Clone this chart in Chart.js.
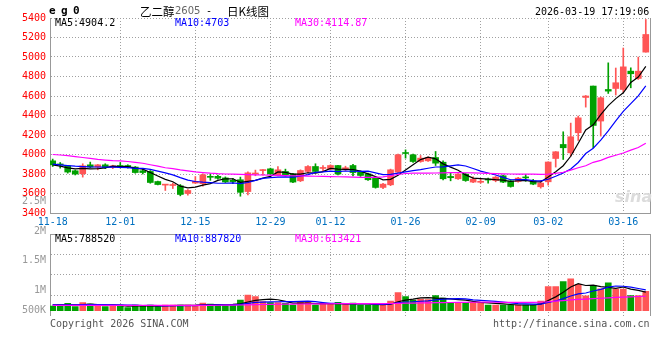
<!DOCTYPE html>
<html><head><meta charset="utf-8">
<script src="https://cdn.jsdelivr.net/npm/chart.js@4.4.1/dist/chart.umd.min.js"></script>
<style>
html,body{margin:0;padding:0;background:#fff;}
#wrap{position:relative;width:660px;height:360px;overflow:hidden;background:#fff;}
canvas{position:absolute;left:0;}
.t{position:absolute;white-space:pre;font:10px 'DejaVu Sans Mono',monospace;line-height:12px;color:#000;}
</style></head><body>
<div id="wrap">
<canvas id="k" width="660" height="232" style="top:0"></canvas>
<canvas id="v" width="660" height="150" style="top:190px"></canvas>
<div class="t" style="left:49px;top:4px;font:bold 11px 'DejaVu Sans Mono';letter-spacing:5.4px;line-height:14px">eg0</div>
<div class="t" style="left:140px;top:3px;font:11.5px 'Noto Sans CJK SC';line-height:16px">乙二醇</div>
<div class="t" style="left:175px;top:5px;font:10px 'DejaVu Sans';color:#666;line-height:12px">2605</div>
<div class="t" style="left:206px;top:5px">-</div>
<div class="t" style="left:227px;top:3px;font:11.5px 'Noto Sans CJK SC';line-height:16px">日K线图</div>
<div class="t" style="left:535px;top:6px">2026-03-19 17:19:06</div>
<div class="t" style="left:55px;top:17px">MA5:4904.2</div>
<div class="t" style="left:175px;top:17px;color:#0000ff">MA10:4703</div>
<div class="t" style="left:295px;top:17px;color:#ff00ff">MA30:4114.87</div>
<div class="t" style="left:55px;top:233px">MA5:788520</div>
<div class="t" style="left:175px;top:233px;color:#0000ff">MA10:887820</div>
<div class="t" style="left:295px;top:233px;color:#ff00ff">MA30:613421</div>
<div class="t" style="left:50px;top:318px;color:#555">Copyright 2026 SINA.COM</div>
<div class="t" style="left:493px;top:318px;color:#555">http://finance.sina.com.cn</div>
<div class="t" style="left:615px;top:188px;font:italic bold 16px 'DejaVu Sans';color:#dcdcdc;line-height:18px">sina</div>
</div>
<script>
// ---------- data ----------
const tickIdx = [0, 9, 19, 29, 37, 47, 57, 66, 76];
const tickLabels = ['11-18','12-01','12-15','12-29','01-12','01-26','02-09','03-02','03-16'];
const volTickValues = [2500000, 2000000, 1500000, 1000000, 500000];
const volTickLabels = ['2.5M','2M','1.5M','1M','500K'];

const open = [3935,3900,3884,3833,3802,3894,3871,3894,3867,3887,
3887,3871,3833,3826,3723,3686,3682,3679,3600,3707,
3700,3772,3776,3760,3735,3741,3620,3800,3835,3853,
3786,3826,3800,3730,3826,3877,3857,3850,3887,3843,
3887,3819,3802,3758,3662,3689,3819,4017,3997,3928,
3935,3969,3921,3775,3751,3799,3717,3715,3744,3733,
3782,3730,3723,3766,3730,3669,3720,3959,4103,4017,
4223,4585,4702,4343,4667,4677,4667,4855,4780,5050];
const close = [3894,3893,3820,3799,3884,3871,3894,3867,3884,3870,
3867,3815,3815,3713,3692,3689,3690,3590,3631,3725,
3792,3766,3756,3718,3722,3612,3812,3806,3843,3800,
3843,3792,3717,3836,3877,3826,3862,3887,3800,3864,
3815,3785,3741,3662,3696,3843,3997,4010,3928,3963,
3969,3911,3751,3762,3799,3733,3747,3722,3738,3768,
3717,3672,3758,3760,3696,3707,3923,4028,4069,4182,
4376,4600,4298,4582,4650,4736,4899,4828,4855,5231];
const high = [3953,3918,3887,3840,3905,3922,3898,3905,3890,3918,
3895,3877,3850,3835,3727,3692,3707,3692,3641,3774,
3802,3802,3790,3770,3756,3768,3822,3840,3846,3860,
3877,3850,3806,3843,3887,3905,3887,3894,3890,3880,
3900,3830,3810,3765,3705,3850,4004,4048,4004,3990,
3975,4031,3935,3810,3805,3805,3770,3745,3758,3775,
3790,3740,3765,3795,3745,3730,3925,4030,4233,4322,
4394,4605,4702,4590,4940,4887,5092,4889,4999,5385];
const low = [3877,3860,3809,3790,3768,3865,3843,3855,3855,3862,
3860,3808,3800,3705,3688,3631,3651,3576,3583,3703,
3675,3735,3748,3712,3700,3572,3585,3782,3789,3790,
3780,3780,3710,3722,3812,3812,3830,3843,3790,3836,
3780,3775,3735,3655,3650,3680,3812,3963,3920,3920,
3928,3887,3740,3730,3745,3725,3710,3705,3705,3720,
3710,3665,3716,3725,3690,3655,3686,3871,3949,3983,
4144,4486,4069,4189,4626,4610,4640,4684,4770,5050];
const ma5 = [3894,3880,3862,3852,3858,3853,3854,3863,3880,3877,
3876,3861,3850,3816,3780,3745,3720,3675,3658,3665,
3686,3701,3734,3751,3751,3715,3724,3734,3759,3775,
3821,3817,3799,3798,3813,3810,3824,3858,3850,3848,
3846,3830,3801,3773,3740,3745,3788,3842,3895,3948,
3973,3956,3904,3871,3838,3791,3758,3753,3748,3742,
3738,3723,3731,3735,3721,3719,3769,3823,3885,3982,
4116,4251,4305,4408,4501,4573,4633,4739,4794,4904.2];
const ma10 = [3901,3893,3886,3880,3876,3873,3872,3871,3870,3868,
3865,3858,3857,3848,3829,3811,3791,3763,3737,3723,
3716,3711,3705,3705,3708,3701,3713,3734,3755,3763,
3768,3771,3767,3779,3794,3816,3821,3829,3824,3831,
3828,3827,3830,3812,3794,3796,3809,3822,3834,3844,
3859,3872,3873,3883,3893,3882,3857,3829,3810,3790,
3765,3741,3742,3742,3732,3729,3746,3777,3810,3852,
3918,4010,4064,4147,4242,4345,4442,4522,4601,4703];
const ma30 = [4000,3995,3988,3978,3969,3960,3950,3943,3937,3934,
3928,3920,3910,3895,3880,3864,3855,3843,3833,3822,
3815,3808,3803,3800,3799,3797,3794,3792,3790,3788,
3786,3784,3782,3780,3779,3777,3775,3774,3772,3770,
3767,3765,3765,3766,3770,3782,3795,3805,3808,3809,
3809,3810,3812,3815,3815,3813,3811,3809,3806,3804,
3802,3800,3799,3799,3798,3797,3799,3806,3818,3840,
3864,3885,3920,3940,3970,3992,4015,4045,4072,4114.87];
const volume = [200000,270000,310000,170000,340000,285000,200000,170000,240000,240000,
130000,240000,185000,240000,170000,240000,240000,240000,240000,200000,
325000,285000,240000,240000,240000,455000,665000,595000,385000,340000,
340000,310000,240000,355000,355000,240000,285000,270000,355000,270000,
325000,240000,240000,240000,240000,410000,765000,595000,455000,495000,
470000,640000,540000,355000,355000,355000,355000,355000,240000,240000,
240000,240000,240000,240000,240000,410000,1020000,1020000,1235000,1350000,
1120000,630000,1080000,930000,1180000,920000,920000,640000,640000,820000];
const volMa5 = [250000,250000,252000,252000,258000,275000,261000,233000,247000,227000,
196000,204000,207000,207000,193000,215000,215000,226000,226000,232000,
249000,258000,258000,258000,266000,292000,368000,439000,468000,488000,
465000,394000,323000,317000,320000,300000,295000,301000,301000,284000,
301000,292000,286000,263000,257000,274000,379000,450000,493000,544000,
556000,531000,520000,500000,472000,449000,392000,355000,332000,309000,
286000,263000,240000,240000,240000,274000,430000,586000,785000,1007000,
1149000,1071000,1083000,1022000,988000,948000,1006000,918000,860000,788520];
const volMa10 = [250000,250000,252000,252000,255000,258000,258000,255000,252000,243000,
236000,233000,220000,227000,210000,206000,210000,217000,217000,213000,
232000,237000,242000,242000,249000,271000,313000,349000,363000,377000,
379000,381000,381000,393000,404000,383000,345000,312000,309000,302000,
301000,294000,294000,282000,271000,288000,336000,368000,378000,401000,
415000,455000,485000,497000,508000,503000,462000,438000,416000,391000,
368000,328000,298000,286000,275000,280000,347000,413000,513000,624000,
712000,751000,835000,904000,998000,1049000,1039000,1001000,941000,887820];
const volMa30 = [228000,228000,227000,227000,226000,226000,225000,225000,225000,225000,
224000,224000,223000,223000,222000,222000,222000,222000,223000,224000,
226000,228000,230000,232000,235000,240000,248000,256000,262000,268000,
273000,277000,280000,283000,287000,290000,292000,294000,296000,298000,
300000,300000,301000,301000,302000,305000,312000,318000,323000,328000,
333000,340000,345000,348000,352000,356000,358000,360000,360000,358000,
356000,354000,352000,352000,352000,357000,380000,405000,430000,455000,
478000,492000,510000,528000,546000,562000,578000,590000,602000,613421];

// ---------- styling ----------
const UP = '#ff5555', DOWN = '#00a000';
const GRID = '#a0a0a0', BORDER = '#999999';
const MONO = "'DejaVu Sans Mono', monospace";
const X_MIN = -0.36, X_MAX = 79.56;

const N = close.length;
const idx = Array.from({length: N}, (_, i) => i);
const candleColor = idx.map(i => close[i] >= open[i] ? UP : DOWN);
const pts = arr => idx.map(i => ({x: i, y: arr[i]}));

function xAxis(showLabels) {
  return {
    type: 'linear', min: X_MIN, max: X_MAX, offset: false,
    afterBuildTicks: ax => { ax.ticks = tickIdx.map(v => ({value: v})); },
    afterFit: s => { s.height = showLabels ? 19 : 0; },
    ticks: {display: showLabels, autoSkip: false, maxRotation: 0, padding: 3,
      color: '#0070c0', font: {family: MONO, size: 10},
      callback: (v, i) => tickLabels[i]},
    grid: {offset: false, drawTicks: false,
      color: c => c.index === 0 ? 'rgba(0,0,0,0)' : GRID},
    border: {display: showLabels, color: BORDER, dash: [1, 2]}
  };
}
function rightAxis(min, max) {
  return {position: 'right', min, max, ticks: {display: false},
    grid: {drawOnChartArea: false, drawTicks: false},
    border: {color: BORDER}, afterFit: s => { s.width = 10; }};
}
const lineDs = (arr, color, order) => ({type: 'line', data: pts(arr), borderColor: color,
  borderWidth: 1.2, pointRadius: 0, tension: 0, order});

new Chart(document.getElementById('k'), {
  type: 'bar',
  data: {datasets: [
    lineDs(ma30, '#ff00ff', 0),
    lineDs(ma10, '#0000ff', 1),
    lineDs(ma5, '#000000', 2),
    {type: 'bar', data: idx.map(i => ({x: i, y: [open[i], close[i]]})), backgroundColor: candleColor,
      barThickness: 6, minBarLength: 1, grouped: false, order: 5},
    {type: 'bar', data: idx.map(i => ({x: i, y: [low[i], high[i]]})), backgroundColor: candleColor,
      barThickness: 1, grouped: false, order: 6}
  ]},
  options: {
    responsive: false, animation: false, events: [],
    layout: {padding: {top: 18, left: 0, right: 0, bottom: 0}},
    plugins: {legend: {display: false}, tooltip: {enabled: false}},
    scales: {
      x: xAxis(true),
      y: {min: 3400, max: 5400, afterFit: s => { s.width = 50; },
        ticks: {stepSize: 200, color: '#ff0000', padding: 4, font: {family: MONO, size: 10},
          callback: v => String(v)},
        grid: {color: GRID, drawTicks: false},
        border: {color: BORDER, dash: [1, 2]}},
      yr: rightAxis(3400, 5400)
    }
  }
});

const volLabels = {
  id: 'volLabels',
  afterDraw(chart) {
    const s = chart.scales.yl, a = chart.chartArea, ctx = chart.ctx;
    ctx.save();
    ctx.font = '10px ' + MONO; ctx.fillStyle = '#999999';
    ctx.textAlign = 'right'; ctx.textBaseline = 'middle';
    volTickValues.forEach((v, k) => {
      const y = Math.min(s.getPixelForValue(v), a.bottom - 5);
      ctx.fillText(volTickLabels[k], a.left - 4, y);
    });
    ctx.restore();
  }
};

new Chart(document.getElementById('v'), {
  type: 'bar',
  data: {datasets: [
    lineDs(volMa30, '#ff00ff', 0),
    lineDs(volMa10, '#0000ff', 1),
    lineDs(volMa5, '#000000', 2),
    {type: 'bar', data: pts(volume), backgroundColor: candleColor, barThickness: 6,
      grouped: false, order: 5}
  ]},
  options: {
    responsive: false, animation: false, events: [],
    layout: {padding: {top: 44, left: 0, right: 0, bottom: 24.4}},
    plugins: {legend: {display: false}, tooltip: {enabled: false}},
    scales: {
      x: xAxis(false),
      y: {min: -210000, max: 3260000, afterFit: s => { s.width = 50; },
        afterBuildTicks: ax => { ax.ticks = [0,1,2,3,4].map(k => ({value: ax.min + k * (ax.max - ax.min) / 4})); },
        ticks: {display: false},
        grid: {drawTicks: false,
          color: c => c.index === 0 ? 'rgba(0,0,0,0)' : (c.index === 4 ? BORDER : GRID)},
        border: {color: BORDER, dash: c => (c.index === 4 ? [] : [1, 2])}},
      yr: rightAxis(-210000, 3260000),
      yl: {display: false, min: 566100, max: 1949150}
    }
  },
  plugins: [volLabels]
});
</script>
</body></html>
